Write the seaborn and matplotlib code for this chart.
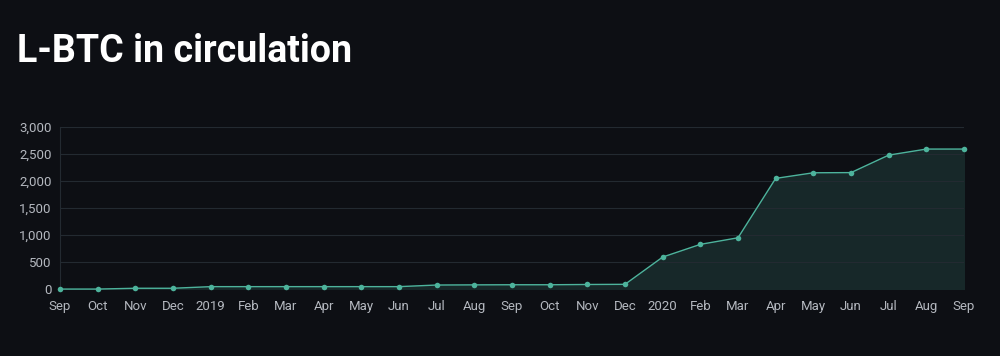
import numpy as np
import pandas as pd
import seaborn as sns
import matplotlib.pyplot as plt

months = ['Sep', 'Oct', 'Nov', 'Dec', '2019', 'Feb', 'Mar', 'Apr', 'May', 'Jun', 'Jul', 'Aug',
          'Sep', 'Oct', 'Nov', 'Dec', '2020', 'Feb', 'Mar', 'Apr', 'May', 'Jun', 'Jul', 'Aug', 'Sep']
lbtc = [0, 0, 15, 15, 45, 45, 45, 45, 45, 45, 75, 78,
        80, 80, 85, 88, 593, 828, 950, 2050, 2154, 2157, 2481, 2593, 2593]

bg = '#0d0f14'
line_color = '#4db39c'
text_color = '#b4b8bf'

sns.set_style('dark')
plt.rcParams['font.family'] = ['Roboto', 'DejaVu Sans']

df = pd.DataFrame({'pos': np.arange(len(months)), 'lbtc': lbtc})

fig = plt.figure(figsize=(10, 3.56), dpi=100, facecolor=bg)
ax = fig.add_axes([0.06, 0.188, 0.904, 0.455])
ax.set_facecolor(bg)

# fill under the line, kept under the grid so the grid shows through
ax.fill_between(df['pos'], df['lbtc'], color='#172829', zorder=0.3)
sns.lineplot(data=df, x='pos', y='lbtc', ax=ax, color=line_color, linewidth=1,
             marker='o', markersize=4, markeredgewidth=0, zorder=3, clip_on=False)

ax.set_xlim(0, len(months) - 1)
ax.set_ylim(0, 3000)
ax.set_xticks(df['pos'])
ax.set_xticklabels(months)
ax.set_yticks(range(0, 3001, 500))
ax.set_yticklabels([f'{v:,}' for v in range(0, 3001, 500)])
ax.tick_params(colors=text_color, labelsize=9.5, length=0)
ax.tick_params(axis='x', pad=8)
ax.tick_params(axis='y', pad=6)
ax.grid(axis='y', color='#232a31', linewidth=0.8)
ax.grid(axis='x', visible=False)
for s in ['top', 'right', 'bottom']:
    ax.spines[s].set_visible(False)
ax.spines['left'].set_color('#232a31')
ax.set_xlabel('')
ax.set_ylabel('')

fig.text(0.017, 0.825, 'L-BTC in circulation', color='white', fontsize=27,
         fontweight='bold', ha='left', va='baseline')

fig.savefig('out.png', facecolor=bg)
